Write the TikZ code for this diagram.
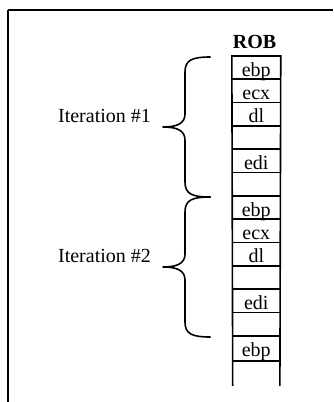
\documentclass[tikz,border=0pt]{standalone}
\usepackage{fontspec}
\setmainfont{Liberation Serif}
\begin{document}
\begin{tikzpicture}[x=1pt,y=-1pt,line width=1.6pt,
  cell/.style={rectangle,inner sep=0pt,minimum width=47.3pt,minimum height=23.33pt,
    text height=19.53pt,text depth=3.8pt,font=\fontsize{20}{22}\selectfont},
  lbl/.style={font=\fontsize{20}{22}\selectfont},
  curly/.style={line width=1.6pt,line join=round}]
\useasboundingbox (0,0) rectangle (333,402);
% page frame (top and left edges only)
\draw (8,10) -- (333,10);
\draw (8,10) -- (8,402);
% reorder buffer column
\node[font=\fontsize{20}{22}\selectfont\bfseries,anchor=base] (rob) at (254.6,48.5) {ROB};
\foreach \t [count=\i] in {ebp,ecx,dl,{},edi,{},ebp,ecx,dl,{},edi,{},ebp}{
  \node[cell] (c\i) at (256.3,{56.7+23.33*(\i-0.5)}) {\t};
  \draw (c\i.north west) -- (c\i.north east);
}
\draw (c13.south west) -- (c13.south east);
\coordinate (endl) at (232.7,385);
\coordinate (endr) at (279.9,385);
\draw[line cap=rect] (c1.north west) -- (endl);
\draw[line cap=rect] (c1.north east) -- (endr);
% braces
\draw[curly] (210.7,57) .. controls (192,57) and (185,60) .. (185,72) -- (185,114)
  .. controls (185,124) and (176,127) .. (163,127)
  .. controls (176,127) and (185,130) .. (185,140) -- (185,182)
  .. controls (185,194) and (192,197) .. (210.7,197);
\draw[curly] (210.7,197) .. controls (192,197) and (185,200) .. (185,212) -- (185,254)
  .. controls (185,264) and (176,267) .. (163,267)
  .. controls (176,267) and (185,270) .. (185,280) -- (185,322)
  .. controls (185,334) and (192,337) .. (210.7,337);
\node[lbl] (it1) at (104.5,116) {Iteration \#1};
\node[lbl] (it2) at (104.5,256) {Iteration \#2};
\end{tikzpicture}
\end{document}
